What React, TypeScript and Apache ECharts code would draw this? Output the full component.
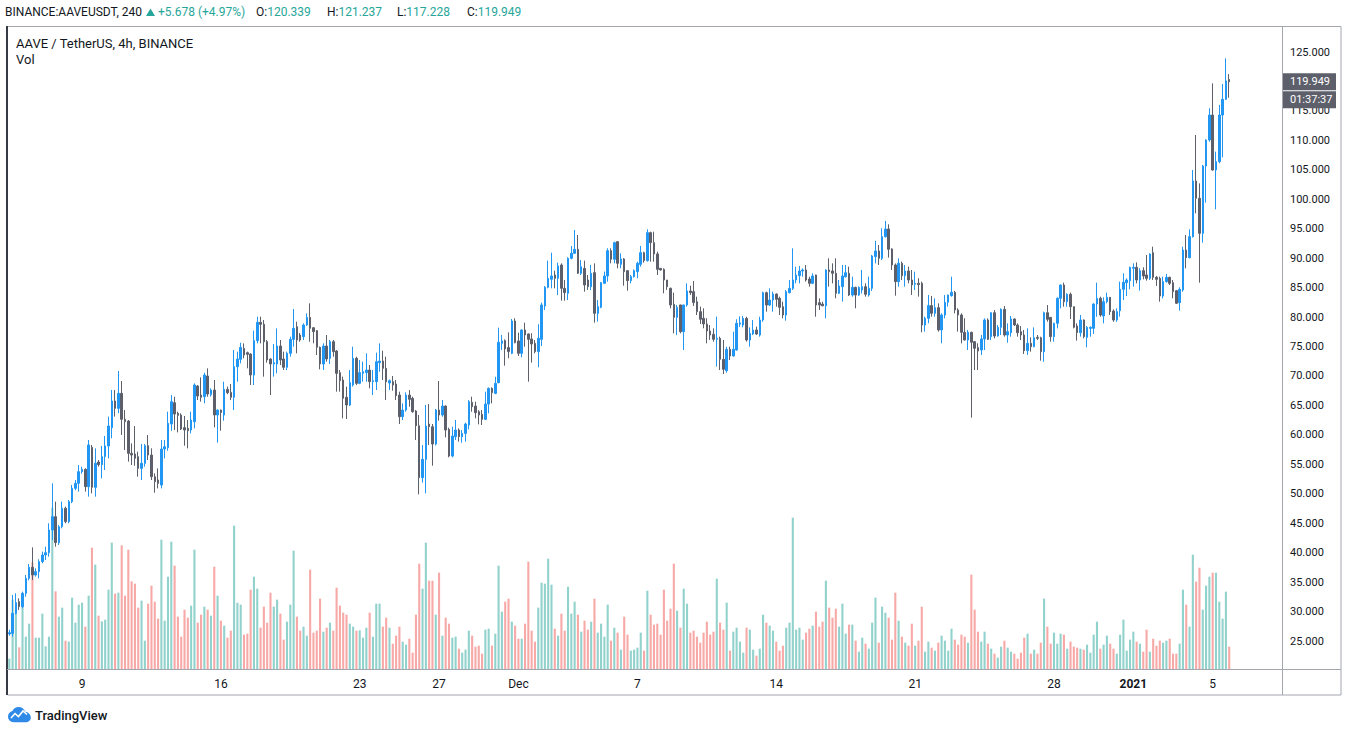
import React, { useEffect, useRef } from "react";
import * as echarts from "echarts";

// ---------- data ----------
const START_UTC = Date.UTC(2020, 10, 5, 8); // first 4h candle
const STEP_MS = 4 * 3600 * 1000;

const OPEN = [
26.2,26.3,29.7,31.68,30.83,33.09,35.64,37.51,36.21,36.77,
38.47,39.6,40.0,43.85,46.11,41.7,44.41,47.53,45.26,48.66,
50.92,51.77,53.75,54.15,51.2,57.88,51.09,55.39,54.94,56.3,
58.11,61.22,65.75,64.5,67.05,62.64,62.35,56.86,56.74,56.29,
54.31,55.16,58.16,56.57,52.9,52.33,51.48,57.59,57.82,61.84,
65.46,63.65,63.37,61.22,61.1,60.82,62.23,68.29,66.76,66.48,
69.99,66.82,67.61,63.37,64.21,63.37,67.72,67.21,66.37,71.57,
72.82,74.68,73.95,73.72,70.16,75.99,79.1,78.76,75.82,72.88,
72.03,72.03,75.08,72.88,71.46,73.84,76.21,78.36,76.95,76.67,
78.65,79.95,78.19,77.69,74.86,72.03,75.08,72.99,75.82,74.23,
70.56,69.31,66.37,65.07,68.46,72.99,68.74,70.44,70.56,71.01,
69.03,69.03,72.25,72.53,71.29,68.8,69.02,68.63,66.76,63.08,
64.21,66.76,66.2,64.04,61.55,52.73,55.84,61.84,61.38,58.44,
64.21,63.37,64.89,60.93,56.4,59.69,60.82,59.69,60.25,61.67,
65.52,64.89,63.93,63.48,62.63,65.23,67.89,67.04,68.86,75.54,
76.0,74.81,73.84,79.33,75.94,73.84,77.8,77.13,76.28,75.54,
74.13,76.22,81.88,85.05,86.41,87.14,86.58,88.84,84.88,84.03,
89.97,90.82,91.5,87.43,88.27,86.29,85.16,87.54,80.63,81.65,
85.73,86.97,91.27,89.8,92.8,88.95,89.86,87.88,86.18,86.86,
87.71,88.95,90.93,89.58,94.33,92.63,90.71,88.27,88.1,86.29,
84.88,82.16,79.95,82.05,77.52,82.05,84.43,84.31,82.61,80.92,
79.79,78.82,77.63,77.07,76.22,76.39,72.82,70.9,74.52,73.39,
74.41,78.8,78.65,79.78,76.1,77.12,77.8,76.95,79.5,84.14,
82.04,82.89,83.91,83.18,81.76,80.35,84.14,84.87,86.29,87.02,
87.82,87.99,86.46,85.72,87.14,82.44,82.2,81.9,87.99,87.82,
87.42,84.03,85.16,86.85,87.42,83.74,85.04,83.74,84.59,85.16,
83.75,84.88,90.26,91.22,89.97,93.65,94.95,91.56,88.84,86.01,
89.12,87.03,87.82,86.29,85.56,85.73,85.73,78.65,79.79,81.94,
80.63,81.6,77.81,80.35,82.5,83.63,84.2,81.2,80.35,77.41,
76.11,77.41,75.82,74.81,74.41,76.27,79.5,76.67,80.74,76.78,
78.25,81.31,76.95,77.35,79.67,78.65,77.52,76.95,74.29,75.54,
74.97,76.55,76.5,74.12,80.74,79.95,76.67,78.93,83.18,85.44,
82.61,83.86,81.76,78.48,77.35,79.5,76.55,78.08,78.08,82.21,
83.18,80.18,82.61,83.35,81.03,79.5,81.08,84.71,85.84,86.18,
88.27,88.44,86.29,87.88,87.14,86.57,90.93,86.74,86.57,83.57,
86.01,86.74,85.84,84.48,82.44,84.59,91.38,90.08,93.65,103.1,
100.16,94.21,105.65,110.06,114.3,104.97,106.38,114.3,116.96,120.339
];

const CLOSE = [
26.4,29.7,31.51,30.83,33.09,35.64,37.51,36.21,36.77,38.47,
39.6,40.0,43.85,46.11,41.7,44.41,47.53,45.26,48.66,50.92,
51.77,53.75,54.15,51.2,58.28,51.09,55.17,54.94,56.3,58.11,
61.5,65.75,64.5,67.05,62.64,62.24,56.86,56.57,56.01,54.31,
55.16,58.16,56.57,52.9,52.05,51.76,57.59,57.99,61.95,65.63,
63.53,63.31,60.99,60.82,60.7,62.52,68.46,66.59,66.37,70.16,
66.93,67.61,63.37,64.21,63.8,67.72,67.16,66.37,71.57,72.87,
74.85,73.55,73.67,70.16,75.99,79.1,78.76,75.82,72.71,72.03,
72.25,75.08,72.71,71.46,73.84,76.21,78.08,76.1,76.1,78.65,
79.95,78.08,77.52,74.86,72.03,75.08,72.88,75.82,74.12,70.44,
69.2,66.2,65.07,68.86,72.99,68.74,70.56,70.73,71.01,69.03,
69.2,72.42,72.53,71.29,69.02,69.2,68.46,66.65,63.08,64.21,
66.76,66.03,63.93,61.55,52.73,55.84,61.5,61.38,58.44,64.21,
63.37,64.89,60.82,56.4,59.8,60.82,59.69,60.25,61.84,65.63,
64.78,63.76,63.37,62.63,65.23,67.89,67.16,68.74,75.71,75.94,
74.58,74.13,79.33,75.65,73.84,77.8,76.96,76.22,75.43,74.13,
76.39,82.05,85.05,86.58,86.97,86.58,88.67,84.88,84.14,89.97,
90.82,91.5,87.43,88.56,85.44,85.16,87.43,80.63,81.77,85.84,
86.97,91.27,89.8,92.63,89.12,89.86,87.71,86.18,86.86,87.88,
89.12,90.93,89.58,94.33,92.63,90.71,88.1,87.99,86.29,85.16,
82.05,79.95,81.65,77.52,82.05,84.43,84.14,82.45,80.92,79.62,
78.82,77.63,76.96,76.22,76.39,72.82,71.13,74.52,73.39,74.52,
78.94,79.0,79.78,76.1,77.23,77.8,77.12,79.5,84.14,82.04,
82.89,83.91,83.01,81.65,80.35,84.31,84.87,86.29,87.14,87.82,
87.99,86.29,85.72,86.97,82.04,82.04,81.9,87.99,87.7,87.42,
84.03,85.27,86.97,87.53,83.74,85.04,83.74,85.04,85.16,83.86,
84.88,90.37,91.22,89.97,93.65,94.95,91.5,88.84,86.01,89.12,
87.03,87.82,86.29,85.45,85.73,85.5,78.65,79.79,81.94,80.63,
81.6,77.81,80.35,82.5,83.75,84.2,81.2,80.35,77.41,76.11,
77.41,75.71,74.69,74.24,76.28,79.5,76.22,80.74,76.78,78.25,
81.31,76.95,77.52,79.67,78.65,77.35,76.95,74.29,75.54,74.97,
76.5,76.39,74.12,80.74,79.61,76.67,78.93,83.18,85.44,82.61,
83.86,81.76,78.25,77.35,79.5,76.67,78.25,78.25,82.21,83.18,
80.35,82.61,83.35,80.92,79.5,80.92,84.71,85.9,86.29,88.44,
88.44,86.29,87.88,86.97,86.57,90.7,86.74,86.4,83.57,86.01,
86.74,85.72,84.31,82.33,84.71,91.38,90.08,93.65,103.1,100.16,
94.21,105.65,110.06,114.3,104.97,106.38,114.3,116.96,120.08,119.949
];

const LOW = [
25.9,25.74,29.5,30.27,30.55,32.53,35.3,35.36,35.93,35.64,
38.2,38.75,39.32,42.15,41.02,41.3,44.13,44.98,44.98,48.4,
50.6,50.36,53.4,50.36,49.51,50.07,49.51,54.6,52.62,54.03,
56.02,59.41,63.09,63.66,59.98,57.43,55.45,54.88,54.76,52.9,
52.33,54.59,55.73,52.33,50.18,50.91,50.91,56.01,57.31,60.7,
60.82,60.42,60.82,58.16,57.71,60.25,61.1,65.91,65.63,65.35,
66.48,66.5,61.27,58.67,60.7,62.4,66.9,65.91,64.21,69.02,
72.14,72.99,71.29,68.46,68.46,75.54,75.54,69.88,72.25,66.76,
69.88,70.44,71.86,71.01,71.01,73.27,74.97,73.84,75.8,76.1,
78.5,75.82,75.54,73.55,71.12,71.01,72.42,72.03,73.27,67.33,
67.33,62.8,62.69,64.9,68.18,68.46,68.6,69.03,69.03,67.9,
66.76,67.61,70.72,69.31,65.91,67.6,67.5,65.91,61.84,62.52,
63.93,64.78,63.76,59.12,49.9,51.88,50.07,58.27,54.76,58.2,
62.4,63.08,59.57,56.18,56.18,59.12,58.84,58.67,58.84,60.93,
63.93,62.8,61.78,61.67,62.52,63.65,65.35,66.9,68.75,74.41,
71.75,73.0,73.7,75.54,73.39,73.16,74.97,69.03,72.26,73.84,
71.47,75.09,81.2,84.88,84.88,84.88,83.75,82.78,82.78,82.9,
89.8,90.7,87.3,87.14,84.31,84.6,84.6,79.05,79.22,81.5,
85.6,86.01,89.12,89.12,88.27,88.27,85.33,84.48,85.73,86.7,
86.58,88.56,89.24,89.41,89.41,89.41,87.14,87.9,84.03,84.6,
81.48,77.24,76.96,77.24,74.41,81.77,83.75,81.88,80.35,78.82,
78.09,75.54,76.11,75.82,71.58,71.01,70.33,70.56,72.71,73.28,
74.3,78.3,78.25,75.82,74.97,76.95,76.95,76.67,79.2,80.91,
81.87,80.91,81.76,80.35,79.78,79.38,84.0,84.59,85.72,85.72,
86.85,86.01,85.16,85.6,80.06,81.2,81.85,79.78,85.16,85.72,
83.18,83.9,82.61,86.7,83.57,83.46,81.48,83.6,84.0,83.46,
83.46,84.43,89.12,88.84,89.69,93.5,90.09,87.99,83.63,85.16,
86.29,85.16,85.73,83.75,84.6,83.46,77.41,77.52,78.94,80.07,
80.07,77.52,75.54,79.79,81.77,83.46,80.63,77.52,75.54,76.0,
74.41,62.92,71.01,71.01,73.56,74.4,76.1,76.1,76.39,76.67,
76.95,76.67,75.65,76.67,78.48,76.67,76.1,73.73,73.56,74.12,
74.86,76.1,72.59,72.42,79.21,75.82,75.82,78.08,81.48,81.76,
81.76,79.67,78.08,75.99,76.67,76.39,74.86,76.67,77.12,80.06,
80.06,78.93,82.33,80.35,79.2,79.2,80.07,82.9,83.57,84.71,
85.16,85.72,84.48,86.4,86.18,86.29,86.29,85.27,82.61,83.18,
85.84,85.44,83.18,82.22,81.08,84.31,88.27,89.97,93.5,97.61,
85.84,92.63,99.42,109.78,104.85,98.29,106.1,107.12,116.85,117.228
];

const HIGH = [
26.9,32.81,33.09,32.24,33.38,36.21,38.08,40.9,37.34,38.87,
40.17,41.02,44.98,51.77,48.66,44.7,48.66,47.81,48.94,51.49,
52.34,54.88,54.6,54.32,59.13,58.28,57.71,55.73,58.11,59.81,
63.09,67.62,67.62,70.84,69.14,64.22,62.52,58.56,61.5,57.14,
58.44,58.44,59.97,57.71,53.46,54.31,59.12,59.12,63.93,66.76,
66.48,63.93,63.65,63.2,62.52,63.93,68.74,68.46,69.76,70.55,
71.29,67.9,69.31,64.3,64.3,69.02,68.2,68.63,74.4,74.12,
75.65,75.53,74.12,73.84,77.69,80.06,80.06,79.5,76.1,72.99,
75.42,78.08,76.1,74.12,74.12,76.67,81.36,79.21,77.3,78.93,
80.63,82.33,78.3,77.8,75.0,75.54,76.95,76.1,76.1,74.4,
71.01,69.88,68.18,71.01,74.97,73.27,72.71,72.42,73.84,71.86,
71.01,73.95,75.53,74.29,73.27,69.4,69.99,69.31,67.33,65.35,
67.21,67.61,66.48,64.21,63.37,58.27,65.06,65.23,61.84,64.4,
69.14,65.91,65.0,61.22,61.38,62.52,61.1,60.82,62.06,65.91,
66.48,65.63,64.21,64.21,67.33,68.06,68.06,69.87,78.2,76.96,
76.22,77.41,79.67,79.79,77.35,77.9,79.05,77.2,77.24,76.11,
78.77,82.45,85.27,89.58,90.93,87.88,89.24,89.12,86.29,90.14,
92.07,94.78,93.93,89.69,89.58,87.14,88.84,89.12,82.9,85.95,
87.71,91.67,91.67,92.8,92.91,90.82,90.0,87.9,87.14,88.1,
89.41,92.07,91.1,94.9,94.5,94.5,91.1,88.3,88.27,86.3,
85.0,84.14,82.05,82.1,82.1,85.73,85.33,86.12,83.46,81.77,
81.48,79.79,78.65,78.09,80.07,76.67,76.11,74.97,74.97,77.52,
79.62,80.1,80.18,80.06,78.25,79.5,78.37,80.06,84.31,84.31,
84.87,84.31,84.0,83.46,82.61,84.59,86.29,91.67,88.55,88.67,
88.27,88.84,86.85,87.42,87.2,83.18,82.6,88.1,89.97,89.12,
89.97,86.29,88.84,88.84,88.55,86.85,85.16,85.2,87.99,85.73,
86.86,90.54,92.92,92.24,95.07,96.31,95.75,91.67,89.1,89.97,
89.41,88.84,88.56,87.99,87.71,86.58,86.01,80.07,83.75,83.58,
83.18,82.33,80.63,83.75,83.8,86.86,84.43,81.48,80.63,79.79,
77.81,77.52,75.94,75.54,76.96,79.78,79.78,80.8,81.2,78.65,
81.48,81.87,78.93,80.18,79.78,78.93,78.48,77.8,78.08,76.55,
78.25,76.95,76.67,80.91,82.04,80.0,79.04,83.35,85.5,85.84,
84.03,84.14,81.8,78.93,80.35,79.6,78.48,78.4,82.33,85.84,
83.46,83.35,84.14,83.4,81.31,81.48,86.01,87.42,86.58,88.55,
89.12,89.29,88.27,88.44,90.54,90.82,91.95,86.97,86.86,86.86,
87.31,86.86,86.29,84.6,85.05,91.95,93.93,94.89,104.97,110.91,
102.7,105.82,110.17,115.44,119.68,108.08,116.0,119.57,123.93,121.237
];

const VOLUME = [
31,208,188,65,188,97,136,320,94,94,
166,68,97,484,233,157,184,85,82,214,
139,193,199,127,220,364,313,160,143,148,
238,379,226,229,371,220,358,263,256,184,
205,85,196,250,202,151,388,145,277,382,
310,157,97,178,154,190,358,139,163,187,
178,160,307,220,145,130,94,115,430,199,
193,103,106,238,277,241,124,187,139,229,
187,208,166,88,142,193,355,157,115,127,
100,298,109,115,211,112,124,139,115,244,
190,169,163,136,127,115,116,94,124,169,
97,196,196,127,154,124,76,100,127,82,
73,91,49,163,316,241,379,265,265,163,
289,100,154,136,94,97,61,49,58,115,
100,67,70,46,118,121,70,106,310,172,
202,211,142,130,91,91,136,322,115,82,
184,259,256,331,253,121,100,166,115,247,
166,202,163,112,145,118,142,211,109,136,
97,193,85,124,109,58,157,103,55,58,
64,109,55,235,163,133,136,103,238,145,
181,316,175,124,241,196,109,115,97,79,
109,142,103,112,271,139,118,199,55,112,
124,82,49,124,118,58,40,61,163,139,
130,115,82,55,70,124,139,454,118,124,
88,109,121,130,172,127,142,265,184,154,
181,127,196,106,133,133,85,52,94,76,
61,139,214,79,187,169,154,88,229,145,
97,79,70,136,70,85,187,52,82,64,
55,79,100,85,55,121,88,73,103,97,
79,283,178,112,82,112,76,61,46,34,
67,85,64,52,46,31,49,94,106,46,
58,46,79,211,127,76,109,76,106,103,
61,82,67,64,61,58,73,49,103,142,
61,73,100,76,61,46,103,148,55,88,
112,82,76,52,118,52,91,70,85,79,
85,91,46,46,76,238,193,127,343,262,
304,178,250,277,289,289,202,151,232,67
];

const TICK_DATES = ["2020-11-09","2020-11-16","2020-11-23","2020-11-27","2020-12-01","2020-12-07","2020-12-14","2020-12-21","2020-12-28","2021-01-01","2021-01-05"];
const TICK_TEXT = ["9","16","23","27","Dec","7","14","21","28","2021","5"];

const SYMBOL_TEXT = "BINANCE:AAVEUSDT, 240";
const CHANGE_TEXT = "+5.678 (+4.97%)";
const TITLE_TEXT = "AAVE / TetherUS, 4h, BINANCE";
const COUNTDOWN = "01:37:37";

// ---------- styles ----------
const UP = "#2196f3";
const DOWN = "#5d606b";
const VOL_UP = "#92d2cc";
const VOL_DOWN = "#f7a9a7";
const GREEN = "#26a69a";
const TXT = "#131722";
const FONT = "Roboto, 'Liberation Sans', sans-serif";

const LOGO_D =
  "M6 16C2.7 16 0 13.3 0 10C0 7.2 2 4.8 4.7 4.2C5.8 1.7 8.3 0 11.2 0C14.4 0 17.1 2.1 18 5C21.4 5.2 24 8 24 11.4C24 14 21.9 16 19.4 16Z";
let logoRegistered = false;
function ensureLogo() {
  if (logoRegistered) return;
  echarts.graphic.registerShape("tvlogo", echarts.graphic.extendPath(LOGO_D, {}) as any);
  logoRegistered = true;
}

function pad(n: number) {
  return n < 10 ? "0" + n : "" + n;
}

export default function App() {
  const ref = useRef<HTMLDivElement>(null);

  useEffect(() => {
    ensureLogo();
    const el = ref.current!;
    const chart = echarts.init(el, null, { renderer: "svg" });

    const categories = OPEN.map((_, k) => {
      const d = new Date(START_UTC + k * STEP_MS);
      return `${d.getUTCFullYear()}-${pad(d.getUTCMonth() + 1)}-${pad(d.getUTCDate())} ${pad(d.getUTCHours())}:00`;
    });
    const tickMap = new Map<string, string>();
    TICK_DATES.forEach((d, i) => tickMap.set(d + " 00:00", TICK_TEXT[i]));

    const candles = OPEN.map((o, k) => {
      const c = CLOSE[k];
      const l = Math.min(LOW[k], o, c);
      const h = Math.max(HIGH[k], o, c);
      return [o, c, l, h];
    });
    const vols = VOLUME.map((v, k) => ({
      value: v,
      itemStyle: { color: CLOSE[k] >= OPEN[k] ? VOL_UP : VOL_DOWN },
    }));

    const n = OPEN.length;
    const band = 3.306;
    const gridLeft = 9.3 - band / 2;
    const gridRightX = gridLeft + n * band;
    const gridRight = 1348 - gridRightX;
    const axisX = 1282;

    chart.setOption({
      animation: false,
      backgroundColor: "#ffffff",
      textStyle: { fontFamily: FONT },
      grid: [
        { left: gridLeft, right: gridRight, top: 22.55, height: 647.9 },
        { left: gridLeft, right: gridRight, top: 469, height: 200 },
      ],
      xAxis: [
        {
          type: "category",
          gridIndex: 0,
          data: categories,
          boundaryGap: true,
          axisLine: { show: false },
          axisTick: { show: false },
          axisLabel: { show: false },
          splitLine: { show: false },
        },
        {
          type: "category",
          gridIndex: 1,
          data: categories,
          boundaryGap: true,
          axisLine: { show: false },
          axisTick: { show: false },
          splitLine: { show: false },
          axisLabel: {
            interval: (_i: number, val: string) => tickMap.has(val),
            formatter: (val: string) => {
              const t = tickMap.get(val);
              if (!t) return "";
              return t === "2021" ? "{b|2021}" : t;
            },
            color: TXT,
            fontSize: 12,
            fontFamily: FONT,
            margin: 9,
            rich: { b: { fontWeight: "bold", fontSize: 12, fontFamily: FONT, color: TXT } },
          },
        },
      ],
      yAxis: [
        {
          type: "value",
          gridIndex: 0,
          position: "right",
          offset: axisX - gridRightX,
          min: 20,
          max: 130,
          interval: 5,
          axisLine: { show: false },
          axisTick: { show: false },
          splitLine: { show: false },
          axisLabel: {
            showMinLabel: false,
            showMaxLabel: false,
            formatter: (v: number) => v.toFixed(3),
            color: TXT,
            fontSize: 11,
            fontFamily: FONT,
            margin: 8,
          },
        },
        {
          type: "value",
          gridIndex: 1,
          min: 0,
          max: 600,
          show: false,
          splitLine: { show: false },
        },
      ],
      series: [
        {
          type: "bar",
          name: "Vol",
          xAxisIndex: 1,
          yAxisIndex: 1,
          data: vols,
          barWidth: 2.1,
          z: 1,
        },
        {
          type: "candlestick",
          name: "AAVE",
          xAxisIndex: 0,
          yAxisIndex: 0,
          data: candles,
          barWidth: 2,
          z: 3,
          itemStyle: {
            color: UP,
            color0: DOWN,
            borderColor: UP,
            borderColor0: DOWN,
            borderWidth: 1,
          },
        },
      ],
    });

    const last = n - 1;
    const lastClose = CLOSE[last];
    const yLast = chart.convertToPixel({ yAxisIndex: 0 } as any, lastClose) as number;
    const lastIsUp = CLOSE[last] >= OPEN[last];
    const tagColor = lastIsUp ? UP : DOWN;

    const ohlc = [
      { k: "O:", v: OPEN[last].toFixed(3), x: 256 },
      { k: "H:", v: HIGH[last].toFixed(3), x: 327 },
      { k: "L:", v: LOW[last].toFixed(3), x: 397 },
      { k: "C:", v: CLOSE[last].toFixed(3), x: 467 },
    ];

    const graphics: any[] = [
      // frame and separators
      { type: "rect", silent: true, z: 50, shape: { x: 7.5, y: 26.5, width: 1333.5, height: 668.5 }, style: { fill: "none", stroke: "#a3a6af", lineWidth: 1 } },
      { type: "line", silent: true, z: 51, shape: { x1: 7, y1: 26, x2: 7, y2: 695 }, style: { stroke: "#363a45", lineWidth: 2 } },
      { type: "line", silent: true, z: 51, shape: { x1: axisX + 0.5, y1: 26, x2: axisX + 0.5, y2: 695 }, style: { stroke: "#a3a6af", lineWidth: 1 } },
      { type: "line", silent: true, z: 51, shape: { x1: 7, y1: 669.5, x2: 1341, y2: 669.5 }, style: { stroke: "#a3a6af", lineWidth: 1 } },
      // header
      { type: "text", silent: true, z: 60, x: 5, y: 12, style: { text: SYMBOL_TEXT, fill: TXT, fontSize: 12, fontFamily: FONT, verticalAlign: "middle" } },
      { type: "polygon", silent: true, z: 60, shape: { points: [[146, 16], [150.5, 8.5], [155, 16]] }, style: { fill: GREEN } },
      { type: "text", silent: true, z: 60, x: 158, y: 12, style: { text: CHANGE_TEXT, fill: GREEN, fontSize: 12, fontFamily: FONT, verticalAlign: "middle" } },
      ...ohlc.map((o) => ({
        type: "text",
        silent: true,
        z: 60,
        x: o.x,
        y: 12,
        style: {
          text: `{k|${o.k}}{v|${o.v}}`,
          fontSize: 12,
          fontFamily: FONT,
          verticalAlign: "middle",
          rich: {
            k: { fill: TXT, fontSize: 12, fontFamily: FONT },
            v: { fill: GREEN, fontSize: 12, fontFamily: FONT },
          },
        },
      })),
      // pane legend
      { type: "text", silent: true, z: 60, x: 16, y: 43, style: { text: TITLE_TEXT, fill: TXT, fontSize: 13, fontFamily: FONT, verticalAlign: "middle" } },
      { type: "text", silent: true, z: 60, x: 16, y: 59, style: { text: "Vol", fill: TXT, fontSize: 13, fontFamily: FONT, verticalAlign: "middle" } },
      // last price tag
      { type: "rect", silent: true, z: 70, shape: { x: axisX + 1, y: yLast - 8.5, width: 53, height: 17 }, style: { fill: tagColor } },
      { type: "text", silent: true, z: 71, x: axisX + 8, y: yLast, style: { text: lastClose.toFixed(3), fill: "#ffffff", fontSize: 11, fontFamily: FONT, verticalAlign: "middle" } },
      { type: "rect", silent: true, z: 70, shape: { x: axisX + 1, y: yLast + 9.5, width: 53, height: 17 }, style: { fill: tagColor } },
      { type: "text", silent: true, z: 71, x: axisX + 8, y: yLast + 18, style: { text: COUNTDOWN, fill: "#ffffff", fontSize: 11, fontFamily: FONT, verticalAlign: "middle" } },
      // TradingView logo
      { type: "tvlogo", silent: true, z: 60, x: 8, y: 707, scaleX: 0.95, scaleY: 0.95, style: { fill: "#2e8ae6" } },
      { type: "polyline", silent: true, z: 61, shape: { points: [[11, 718], [15, 713.5], [18.5, 716.5], [23, 711], [27, 714.5]] }, style: { stroke: "#ffffff", lineWidth: 1.6, fill: "none" } },
      { type: "text", silent: true, z: 60, x: 35, y: 715, style: { text: "TradingView", fill: TXT, fontSize: 13, fontWeight: 500, fontFamily: FONT, verticalAlign: "middle" } },
    ];

    chart.setOption({ graphic: graphics });

    return () => {
      chart.dispose();
    };
  }, []);

  return (
    <div
      ref={ref}
      style={{ position: "fixed", left: 0, top: 0, width: 1348, height: 731, background: "#ffffff" }}
    />
  );
}
